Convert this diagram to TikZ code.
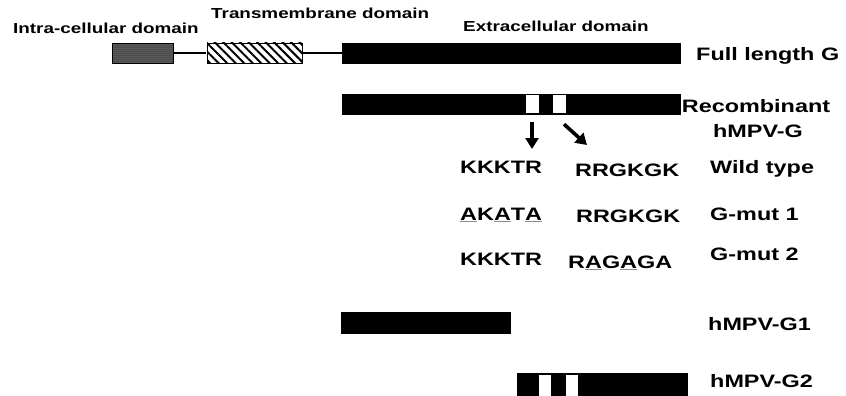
\documentclass[tikz,border=0pt]{standalone}
\usepackage{fontspec}
\setmainfont{Liberation Sans}[FakeStretch=1.3]
\usetikzlibrary{arrows.meta,patterns.meta}

\newcommand{\subst}[1]{{\color{black!45}\underline{\textcolor{black}{#1}}}}

\begin{document}
\begin{tikzpicture}[x=1pt, y=-1pt,
    every node/.style={inner sep=0pt},
    bar/.style={draw, fill=black, minimum height=20pt},
    window/.style={fill=white, minimum width=13pt, minimum height=18pt},
    domaintext/.style={anchor=base west, font=\bfseries\fontsize{14.5}{16}\selectfont},
    big/.style={anchor=base west, font=\bfseries\fontsize{18}{20}\selectfont},
    mut arrow/.style={line width=3.6pt, -{Triangle[width=13pt,length=11pt]}}]
    \useasboundingbox (0, 0) rectangle (846, 396);
    % full length protein
    \node[draw, fill=black!62, minimum width=61pt, minimum height=20pt,
      postaction={pattern={Dots[radius=0.5pt, distance=2pt]}}] (Intra box) at (142.5, 53) {};
    \node[draw, minimum width=95pt, minimum height=20pt,
      pattern={Lines[angle=-45, distance=6pt, line width=2pt]}] (TM box) at (254.5, 53) {};
    \node[bar, minimum width=338pt] (Full bar) at (511, 53) {};
    \draw[line width=1.2pt] (Intra box) -- (TM box);
    \draw[line width=1.2pt] (TM box) -- (Full bar);
    \node[domaintext] (Intra label) at (13, 34) {Intra-cellular domain};
    \node[domaintext] (TM label) at (211, 19) {Transmembrane domain};
    \node[domaintext] (Extra label) at (463, 32) {Extracellular domain};
    \node[big] (Full label) at (696, 60) {Full length G};
    % recombinant protein
    \node[bar, minimum width=338pt] (Rec bar) at (511, 104) {};
    \node[window] (Window 1) at (532, 104) {};
    \node[window] (Window 2) at (559, 104) {};
    \node[big, anchor=base] (Rec label) at (756, 112) {Recombinant};
    \node[big, anchor=base] (Rec label 2) at (758, 137) {hMPV-G};
    \coordinate (Tip 1) at (532, 149);
    \coordinate (Tip 2) at (587, 145);
    \draw[mut arrow] ([yshift=-9pt]Window 1.south) -- (Tip 1);
    \draw[mut arrow] ([shift={(5pt,-11pt)}]Window 2.south) -- (Tip 2);
    % sequences
    \node[big] (WT left) at (460, 173) {KKKTR};
    \node[big] (WT right) at (575, 176) {RRGKGK};
    \node[big] (WT label) at (710, 173) {Wild type};
    \node[big] (Mut1 left) at (460, 220) {\subst{A}K\subst{A}T\subst{A}};
    \node[big] (Mut1 right) at (576, 222) {RRGKGK};
    \node[big] (Mut1 label) at (710, 220) {G-mut 1};
    \node[big] (Mut2 left) at (460, 265) {KKKTR};
    \node[big] (Mut2 right) at (568, 268) {R\subst{A}G\subst{A}GA};
    \node[big] (Mut2 label) at (710, 260) {G-mut 2};
    % fragments
    \node[bar, minimum width=169pt, minimum height=21pt] (G1 bar) at (425.5, 322.5) {};
    \node[big] (G1 label) at (708, 330) {hMPV-G1};
    \node[bar, minimum width=170pt, minimum height=23pt] (G2 bar) at (602, 384.5) {};
    \node[window, minimum width=12pt, minimum height=22pt] (G2 window 1) at (545, 386) {};
    \node[window, minimum width=12pt, minimum height=22pt] (G2 window 2) at (571.5, 386) {};
    \node[big] (G2 label) at (710, 387) {hMPV-G2};
  \end{tikzpicture}
\end{document}
